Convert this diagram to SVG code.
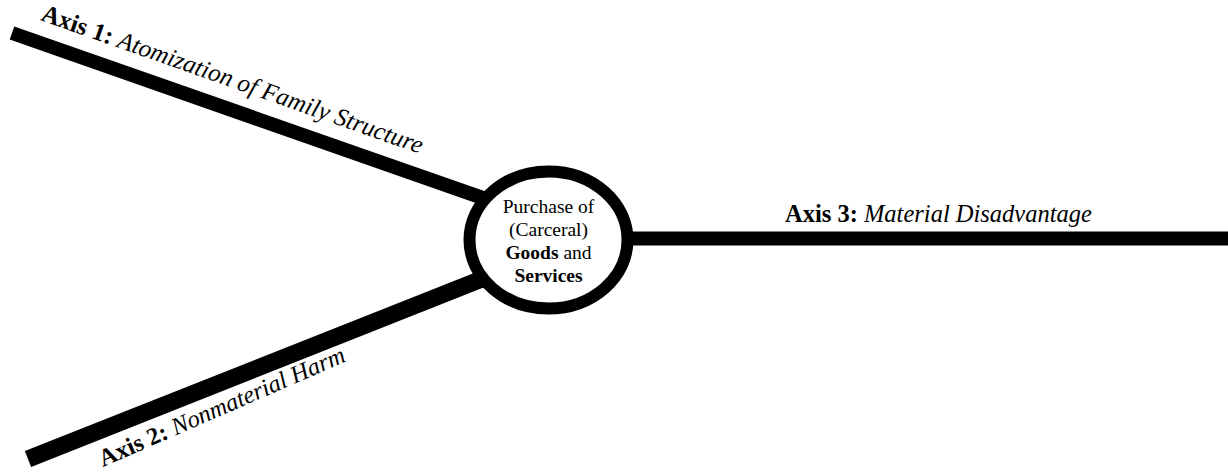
<svg xmlns="http://www.w3.org/2000/svg" width="1228" height="473" viewBox="0 0 1228 473">
<style>
.t{font-family:"Liberation Serif","Times New Roman",serif;fill:#000}
.ax{font-size:24.5px}
.c{font-size:19.5px;text-anchor:middle}
.b{font-weight:bold}
.i{font-style:italic}
.ln{stroke:#000;fill:none;stroke-linecap:butt}
</style>
<rect width="1228" height="473" fill="#fff"/>
<g id="connectors">
<line class="ln" x1="12" y1="33" x2="520" y2="211" stroke-width="14"/>
<line class="ln" x1="28" y1="459" x2="520" y2="264" stroke-width="17"/>
<line class="ln" x1="600" y1="238.5" x2="1228" y2="238.5" stroke-width="14"/>
</g>
<g id="center">
<ellipse cx="548.5" cy="240" rx="79" ry="68.5" fill="#fff" stroke="#000" stroke-width="12"/>
<text class="t c" x="548.5" y="213">Purchase of</text>
<text class="t c" x="548.5" y="236">(Carceral)</text>
<text class="t c" x="548.5" y="259"><tspan class="b">Goods</tspan> and</text>
<text class="t c" x="548.5" y="282"><tspan class="b">Services</tspan></text>
</g>
<g id="axis1">
<text class="t ax" style="font-size:25px" transform="translate(40 20) rotate(19.4)"><tspan class="b">Axis 1:</tspan> <tspan class="i">Atomization of Family Structure</tspan></text>
</g>
<g id="axis2">
<text class="t ax" transform="translate(103 467) rotate(-23.5)"><tspan class="b">Axis 2:</tspan> <tspan class="i">Nonmaterial Harm</tspan></text>
</g>
<g id="axis3">
<text class="t ax" x="785" y="222"><tspan class="b">Axis 3:</tspan> <tspan class="i">Material Disadvantage</tspan></text>
</g>
</svg>
